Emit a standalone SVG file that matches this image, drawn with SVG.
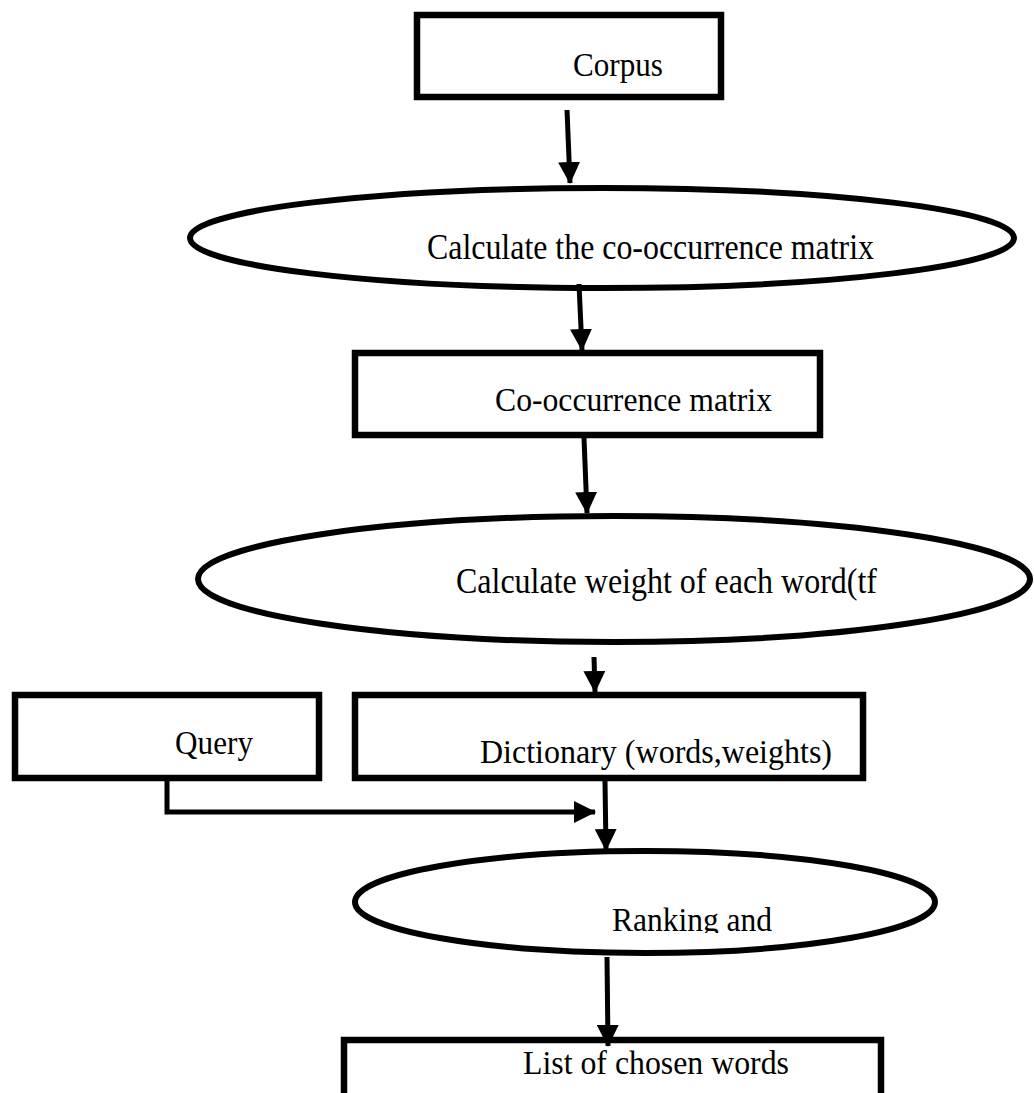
<svg xmlns="http://www.w3.org/2000/svg" width="1034" height="1093" viewBox="0 0 1034 1093">
<style>
.box{fill:#fff;stroke:#000;stroke-width:6.5}
.ell{fill:#fff;stroke:#000;stroke-width:6}
.t{font-family:"Liberation Serif","Times New Roman",serif;font-size:34px;fill:#000}
.te{font-family:"Liberation Serif","Times New Roman",serif;font-size:35px;fill:#000}
.c{fill:none;stroke:#000;stroke-width:5}
</style>
<defs>
<marker id="ah" markerUnits="userSpaceOnUse" markerWidth="22" markerHeight="22" viewBox="0 0 22 22" refX="21" refY="11" orient="auto">
<path d="M0,0 L22,11 L0,22 Z" fill="#000"/>
</marker>
<clipPath id="rc"><rect x="0" y="0" width="1034" height="933"/></clipPath>
</defs>
<rect width="1034" height="1093" fill="#fff"/>
<g id="corpus">
<rect class="box" x="417" y="15" width="304" height="82"/>
<text class="t" x="573" y="76" textLength="90" lengthAdjust="spacingAndGlyphs">Corpus</text>
</g>
<g id="calc-cooc">
<ellipse class="ell" cx="602" cy="238" rx="412" ry="50"/>
<text class="te" x="427" y="259" textLength="447" lengthAdjust="spacingAndGlyphs">Calculate the co-occurrence matrix</text>
</g>
<g id="cooc-matrix">
<rect class="box" x="355" y="353" width="465" height="82"/>
<text class="t" x="495" y="411" textLength="277" lengthAdjust="spacingAndGlyphs">Co-occurrence matrix</text>
</g>
<g id="calc-weight">
<ellipse class="ell" cx="614" cy="579" rx="416" ry="63"/>
<text class="te" x="456" y="593" textLength="421" lengthAdjust="spacingAndGlyphs">Calculate weight of each word(tf</text>
</g>
<g id="query">
<rect class="box" x="15" y="695" width="304" height="83"/>
<text class="t" x="175" y="754" textLength="78" lengthAdjust="spacingAndGlyphs">Query</text>
</g>
<g id="dictionary">
<rect class="box" x="355" y="695" width="508" height="83"/>
<text class="t" x="480" y="763" textLength="352" lengthAdjust="spacingAndGlyphs">Dictionary (words,weights)</text>
</g>
<g id="ranking">
<ellipse class="ell" cx="645" cy="902" rx="290" ry="51"/>
<text class="t" x="612" y="931" textLength="160" lengthAdjust="spacingAndGlyphs" clip-path="url(#rc)">Ranking and</text>
</g>
<g id="chosen">
<rect class="box" x="344" y="1040" width="537" height="80"/>
<text class="t" x="523" y="1074" textLength="266" lengthAdjust="spacingAndGlyphs">List of chosen words</text>
</g>
<g id="connectors">
<line class="c" x1="567" y1="110" x2="570" y2="183" marker-end="url(#ah)"/>
<line class="c" x1="579" y1="284" x2="582" y2="350" marker-end="url(#ah)"/>
<line class="c" x1="584" y1="438" x2="587" y2="513" marker-end="url(#ah)"/>
<line class="c" x1="594" y1="657" x2="595" y2="692" marker-end="url(#ah)"/>
<line class="c" x1="605" y1="781" x2="606" y2="850" marker-end="url(#ah)"/>
<polyline class="c" points="167,781 167,812 595,812" marker-end="url(#ah)"/>
<line class="c" x1="607" y1="957" x2="608" y2="1046" marker-end="url(#ah)"/>
</g>
</svg>
